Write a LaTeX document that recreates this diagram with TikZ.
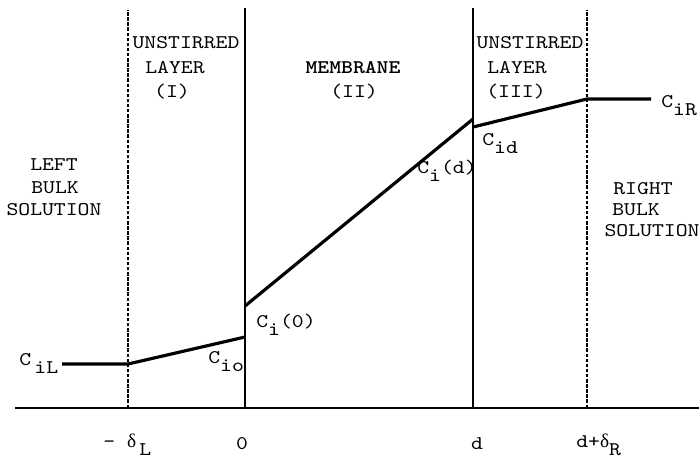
\documentclass[tikz,border=0pt]{standalone}
\usepackage{fontspec}
\setmonofont{lmmono10-regular.otf}[BoldFont=lmmonolt10-bold.otf,FakeStretch=1.17]
\newfontfamily\grk{Liberation Serif}
\usetikzlibrary{positioning}

\newcommand{\lowr}[1]{\raisebox{-5pt}{#1}}

\begin{document}
\begin{tikzpicture}[x=0.02cm,y=-0.02cm,
  tw/.style={font=\ttfamily\fontsize{11}{13}\selectfont,inner sep=0pt},
  twb/.style={font=\ttfamily\bfseries\fontsize{11}{13}\selectfont,inner sep=0pt},
  wall/.style={line width=1.2pt},
  film/.style={line width=1.1pt,dash pattern=on 2pt off 0.9pt},
  axisline/.style={line width=1.4pt},
  conc/.style={line width=1.8pt,line join=round}]
  \useasboundingbox (0,0) rectangle (699,461);

  \coordinate (a0) at (15,408);
  \coordinate (a1) at (699,408);
  \coordinate (fL) at (128,408);
  \coordinate (fLtop) at (128,10);
  \coordinate (w0) at (245,408);
  \coordinate (w0top) at (245,8);
  \coordinate (wd) at (473,408);
  \coordinate (wdtop) at (473,8);
  \coordinate (fR) at (587,408);
  \coordinate (fRtop) at (587,10);

  \draw[axisline] (a0) -- (a1);
  \draw[film] (fL) -- (fLtop);
  \draw[wall] (w0) -- (w0top);
  \draw[wall] (wd) -- (wdtop);
  \draw[film] (fR) -- (fRtop);

  \coordinate (cL) at (62,364);
  \coordinate (cA) at (128,364);
  \coordinate (cB) at (245,337);
  \coordinate (cC) at (245,306);
  \coordinate (cD) at (473,119);
  \coordinate (cE) at (473,127);
  \coordinate (cF) at (587,99);
  \coordinate (cR) at (651,99);
  \draw[conc] (cL) -- (cA) -- (cB);
  \draw[conc] (cC) -- (cD);
  \draw[conc] (cE) -- (cF) -- (cR);

  \node[tw,anchor=base] (unstL) at (186,48) {UNSTIRRED};
  \node[tw,anchor=base] (layL) at (175,73) {LAYER};
  \node[tw,anchor=base] (numL) at (172,97) {(I)};
  \node[twb,anchor=base] (memb) at (353,73) {MEMBRANE};
  \node[tw,anchor=base] (numM) at (354,97) {(II)};
  \node[tw,anchor=base] (unstR) at (530,48) {UNSTIRRED};
  \node[tw,anchor=base] (layR) at (517,73) {LAYER};
  \node[tw,anchor=base] (numR) at (516,97) {(III)};

  \node[tw,anchor=base] (bulkL1) at (54,170) {LEFT};
  \node[tw,anchor=base] (bulkL2) at (55,193) {BULK};
  \node[tw,anchor=base] (bulkL3) at (54,215) {SOLUTION};
  \node[tw,anchor=base] (bulkR1) at (643,194) {RIGHT};
  \node[tw,anchor=base] (bulkR2) at (636,215) {BULK};
  \node[tw,anchor=base] (bulkR3) at (652,236) {SOLUTION};

  \node[tw,anchor=base west] (ciL) at (19,365) {C\lowr{\,iL}};
  \node[tw,anchor=base west] (cio) at (208,363) {C\lowr{io}};
  \node[tw,anchor=base west] (ci0) at (256,327) {C\lowr{i}(0)};
  \node[tw,anchor=base west] (cidd) at (417,173) {C\lowr{i}(d)};
  \node[tw,anchor=base west] (cid) at (482,145) {C\lowr{id}};
  \node[tw,anchor=base west] (ciR) at (661,107) {C\lowr{iR}};

  \node[tw,anchor=base west] (xdl) at (103,447) {- {\grk δ}\lowr{\,L}};
  \node[tw,anchor=base] (x0) at (242,449) {0};
  \node[tw,anchor=base] (xd) at (477,449) {d};
  \node[tw,anchor=base west] (xdr) at (576,447) {d+{\grk δ}\lowr{R}};
\end{tikzpicture}
\end{document}
